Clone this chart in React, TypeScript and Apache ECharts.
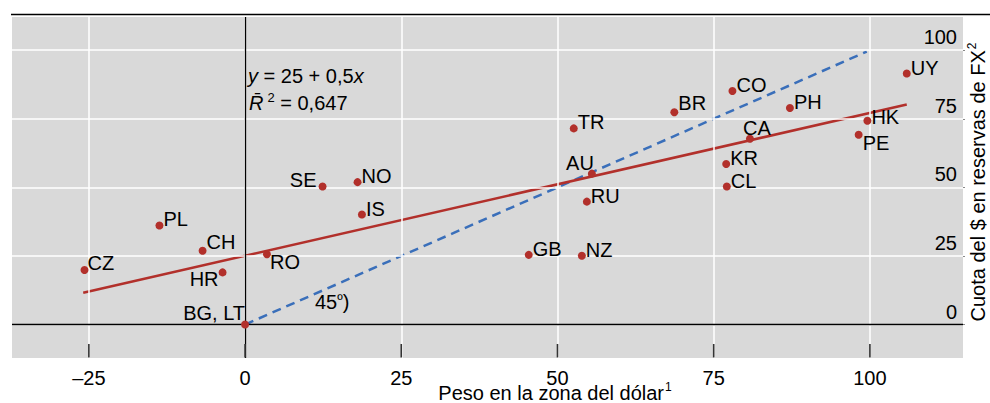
import React, { useEffect, useRef } from "react";
import * as echarts from "echarts";

const countries = ["CZ", "PL", "CH", "HR", "RO", "BG, LT", "SE", "NO", "IS", "TR", "AU", "RU", "GB", "NZ", "BR", "CO", "PH", "CA", "KR", "CL", "HK", "PE", "UY"];
const dollarZoneWeight = [-25.7, -13.7, -6.8, -3.6, 3.5, 0, 12.4, 18.0, 18.7, 52.6, 55.5, 54.7, 45.4, 53.9, 68.7, 78.0, 87.2, 80.8, 77.0, 77.1, 99.6, 98.2, 105.9];
const dollarShare = [19.9, 36.1, 26.9, 19.0, 25.6, 0, 50.3, 51.9, 40.1, 71.5, 55.0, 44.8, 25.4, 25.1, 77.4, 85.1, 78.9, 67.7, 58.5, 50.3, 74.3, 69.2, 91.5];
const fitLine = [[-25.9, 11.6], [105.9, 80.2]];
const line45 = [[0, 0], [99.5, 99.5]];
const xTicks = [-25, 0, 25, 50, 75, 100];
const yTicks = [0, 25, 50, 75, 100];
const X_MIN = -37.3;
const X_MAX = 114.9;
const Y_MIN = -12.2;
const Y_MAX = 112.1;

// label placement (style only): [dx, dy, align]
const labelPlacement: Record<string, [number, number, string]> = {
  CZ: [3, -7, "left"],
  CH: [4, -9, "left"],
  HR: [-4, 7, "right"],
  RO: [3, 8, "left"],
  "BG, LT": [0, -12, "right"],
  SE: [-6, -7, "right"],
  AU: [2, -11, "right"],
  BR: [4, -9, "left"],
  CA: [7, -11, "center"],
  HK: [4, -4, "left"],
  PE: [4, 8, "left"],
};

const FONT = "'Liberation Sans', Arial, Helvetica, sans-serif";
const FS = 20;
const RED = "#b2302b";
const BLUE = "#3a6fba";

export default function App() {
  const ref = useRef<HTMLDivElement>(null);
  useEffect(() => {
    if (!ref.current) return;
    const chart = echarts.init(ref.current, undefined, { renderer: "svg" });
    const pts = countries.map((c, i) => {
      const p = labelPlacement[c] || [4, -6, "left"];
      return {
        value: [dollarZoneWeight[i], dollarShare[i]],
        name: c,
        label: {
          show: true,
          formatter: c,
          position: [4 + p[0], 4 + p[1]],
          align: p[2],
          verticalAlign: "middle",
        },
      };
    });
    chart.setOption({
      animation: false,
      textStyle: { fontFamily: FONT },
      grid: { left: 12, top: 17, width: 951, height: 341, show: true, backgroundColor: "#d9d9d9", borderWidth: 0 },
      xAxis: {
        type: "value",
        min: X_MIN,
        max: X_MAX,
        axisLine: { show: false, onZero: false },
        axisTick: { show: false },
        axisLabel: {
          customValues: xTicks,
          fontSize: FS,
          color: "#000",
          margin: 10,
          fontFamily: FONT,
          formatter: (v: number) => (v < 0 ? "\u2013" + Math.abs(v) : String(v)),
        },
        splitLine: { show: false },
      },
      yAxis: {
        type: "value",
        z: 10,
        position: "right",
        min: Y_MIN,
        max: Y_MAX,
        axisLine: { show: false, onZero: false },
        axisTick: { show: true, length: 2, lineStyle: { color: "#888" }, customValues: yTicks },
        axisLabel: {
          customValues: yTicks,
          inside: true,
          fontSize: FS,
          color: "#000",
          margin: 6,
          verticalAlign: "bottom",
          padding: [0, 0, 3, 0],
          fontFamily: FONT,
        },
        splitLine: { show: false },
      },
      series: [
        {
          type: "line",
          data: [],
          silent: true,
          z: 1,
          markLine: {
            silent: true,
            symbol: "none",
            label: { show: false },
            lineStyle: { color: "#ffffff", width: 1.5, type: "solid" },
            data: [
              ...xTicks.map((v) => ({ xAxis: v })),
              ...yTicks.map((v) => ({ yAxis: v })),
            ],
          },
        },
        {
          type: "line",
          data: [],
          silent: true,
          z: 2,
          markLine: {
            silent: true,
            symbol: "none",
            label: { show: false },
            lineStyle: { color: "#000", width: 1.3, type: "solid" },
            data: [{ xAxis: 0 }, { yAxis: 0 }],
          },
        },
        {
          type: "line",
          data: line45,
          symbol: "none",
          lineStyle: { color: BLUE, width: 2.5, type: [9, 6] },
          z: 3,
        },
        {
          type: "line",
          data: fitLine,
          symbol: "none",
          lineStyle: { color: RED, width: 2.5 },
          z: 4,
        },
        {
          type: "scatter",
          data: pts,
          symbolSize: 8,
          itemStyle: { color: RED, opacity: 1 },
          label: { fontSize: FS, color: "#000", fontFamily: FONT },
          z: 5,
        },
      ],
      graphic: [
        { id: "topRule", type: "line", shape: { x1: 11, y1: 14.5, x2: 990, y2: 14.5 }, style: { stroke: "#000", lineWidth: 1.5 } },
        {
          id: "eq",
          type: "text",
          x: 248,
          y: 76,
          style: {
            text: "{i|y} = 25 + 0,5{i|x}",
            font: `${FS}px ${FONT}`,
            fill: "#000",
            verticalAlign: "middle",
            rich: { i: { fontStyle: "italic", fontSize: FS, fontFamily: FONT } },
          },
        },
        {
          id: "r2",
          type: "text",
          x: 249,
          y: 103,
          style: {
            text: "{i|R\u0304}{s|2} = 0,647",
            font: `${FS}px ${FONT}`,
            fill: "#000",
            verticalAlign: "middle",
            rich: {
              i: { fontStyle: "italic", fontSize: FS, fontFamily: FONT },
              s: { fontSize: 13, fontFamily: FONT, padding: [0, 0, 12, 4] },
            },
          },
        },
        {
          id: "deg45",
          type: "text",
          x: 315,
          y: 302,
          style: {
            text: "45{s|º})",
            font: `${FS}px ${FONT}`,
            fill: "#000",
            verticalAlign: "middle",
            rich: { s: { fontSize: 15, fontFamily: FONT, padding: [0, 0, 6, 0] } },
          },
        },
        {
          id: "xName",
          type: "text",
          x: 555,
          y: 393,
          style: {
            text: "Peso en la zona del dólar{s|1}",
            font: `${FS}px ${FONT}`,
            fill: "#000",
            align: "center",
            verticalAlign: "middle",
            rich: { s: { fontSize: 12, fontFamily: FONT, padding: [0, 0, 12, 1] } },
          },
        },
        {
          id: "yName",
          type: "text",
          x: 978,
          y: 182,
          rotation: Math.PI / 2,
          style: {
            text: "Cuota del $ en reservas de FX{s|2}",
            font: `${FS}px ${FONT}`,
            fill: "#000",
            align: "center",
            verticalAlign: "middle",
            rich: { s: { fontSize: 12, fontFamily: FONT, padding: [0, 0, 12, 1] } },
          },
        },
      ],
    });
    // bottom inward ticks, positioned through the library's own scales
    const yBottom = chart.convertToPixel({ yAxisIndex: 0 } as any, Y_MIN) as number;
    const tickEls = xTicks.map((v, i) => {
      const px = chart.convertToPixel({ xAxisIndex: 0 } as any, v) as number;
      return {
        id: "xtick" + i,
        type: "line",
        z: 100,
        silent: true,
        shape: { x1: px, y1: yBottom - 14, x2: px, y2: yBottom - 0.5 },
        style: { stroke: "#333333", lineWidth: 1.6 },
      };
    });
    chart.setOption({ graphic: tickEls });
    return () => chart.dispose();
  }, []);
  return <div ref={ref} style={{ width: 990, height: 403, position: "absolute", left: 0, top: 0 }} />;
}
